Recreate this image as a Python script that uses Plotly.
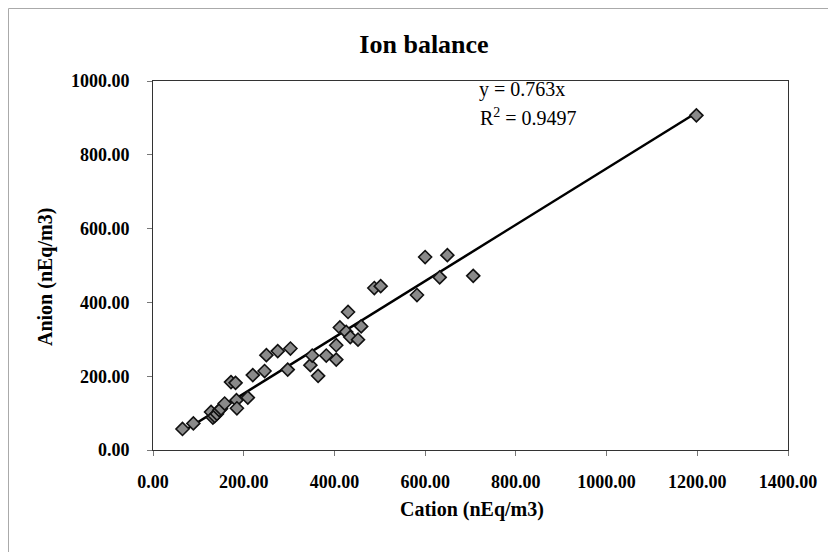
import plotly.graph_objects as go

cation = [65, 89, 128, 132, 136, 141, 146, 150, 158, 172, 182, 184, 185, 209, 220,
          246, 250, 275, 297, 303, 347, 351, 364, 382, 404, 404, 412, 426, 430, 435,
          452, 459, 488, 502, 582, 600, 632, 649, 706, 1198]
anion = [57, 72, 103, 88, 92, 98, 108, 112, 126, 184, 182, 135, 113, 142, 203,
         214, 257, 268, 218, 275, 230, 256, 201, 256, 284, 245, 332, 320, 374, 306,
         299, 335, 439, 444, 420, 523, 468, 528, 472, 907]
slope = 0.763
r2 = 0.9497
x_ticks = [0, 200, 400, 600, 800, 1000, 1200, 1400]
y_ticks = [0, 200, 400, 600, 800, 1000]

FONT = "Liberation Serif"
OFF = 8  # page offset of the figure (body margin)

fig = go.Figure()
xl = [min(cation), max(cation)]
fig.add_trace(go.Scatter(x=xl, y=[slope * v for v in xl], mode="lines",
                         line=dict(color="black", width=2.5), hoverinfo="skip",
                         showlegend=False))
fig.add_trace(go.Scatter(x=cation, y=anion, mode="markers",
                         marker=dict(symbol="diamond", size=10, color="#8a8a8a",
                                     line=dict(color="#111111", width=1.6)),
                         showlegend=False))

axis_common = dict(showgrid=False, zeroline=False, showline=True, linecolor="#333333",
                   linewidth=1, mirror=True, ticks="outside", ticklen=5, tickcolor="#777777",
                   tickfont=dict(family=FONT, size=18, color="black"))
fig.update_xaxes(range=[0, 1400], tickvals=x_ticks,
                 ticktext=["<b>%.2f</b>" % v for v in x_ticks],
                 ticklabelstandoff=10, **axis_common)
fig.update_yaxes(range=[0, 1000], tickvals=y_ticks,
                 ticktext=["<b>%.2f</b>" % v for v in y_ticks],
                 ticklabelstandoff=14, **axis_common)

W, H = 836 - OFF, 552 - OFF
fig.update_layout(
    width=W, height=H,
    margin=dict(l=153 - OFF, r=836 - 788, t=81 - OFF, b=552 - 450),
    plot_bgcolor="white", paper_bgcolor="white",
    title=dict(text="<b>Ion balance</b>", x=(424 - OFF) / W, xanchor="center",
               y=1 - (44 - OFF) / H, yanchor="middle",
               font=dict(family=FONT, size=26, color="black")),
    annotations=[
        dict(text="<b>Anion (nEq/m3)</b>", xref="paper", yref="paper",
             x=(45 - 153) / 635, y=(450 - 277) / 369, textangle=-90,
             showarrow=False, xanchor="center", yanchor="middle",
             font=dict(family=FONT, size=20, color="black")),
        dict(text="<b>Cation (nEq/m3)</b>", xref="paper", yref="paper",
             x=(472 - 153) / 635, y=(450 - 509) / 369,
             showarrow=False, xanchor="center", yanchor="middle",
             font=dict(family=FONT, size=20, color="black")),
        dict(text="y = %.3fx" % slope, xref="paper", yref="paper",
             x=(522 - 153) / 635, y=(450 - 89) / 369,
             showarrow=False, xanchor="center", yanchor="middle",
             font=dict(family=FONT, size=20, color="black")),
        dict(text="R<sup>2</sup> = %.4f" % r2, xref="paper", yref="paper",
             x=(528 - 153) / 635, y=(450 - 117) / 369,
             showarrow=False, xanchor="center", yanchor="middle",
             font=dict(family=FONT, size=20, color="black")),
    ],
    shapes=[dict(type="rect", xref="paper", yref="paper",
                 x0=(8.5 - 153) / 635, x1=(829 - 153) / 635,
                 y0=(450 - 600) / 369, y1=(450 - 8.5) / 369,
                 line=dict(color="#aaaaaa", width=1), layer="below")],
)

fig.write_html("out.html")
